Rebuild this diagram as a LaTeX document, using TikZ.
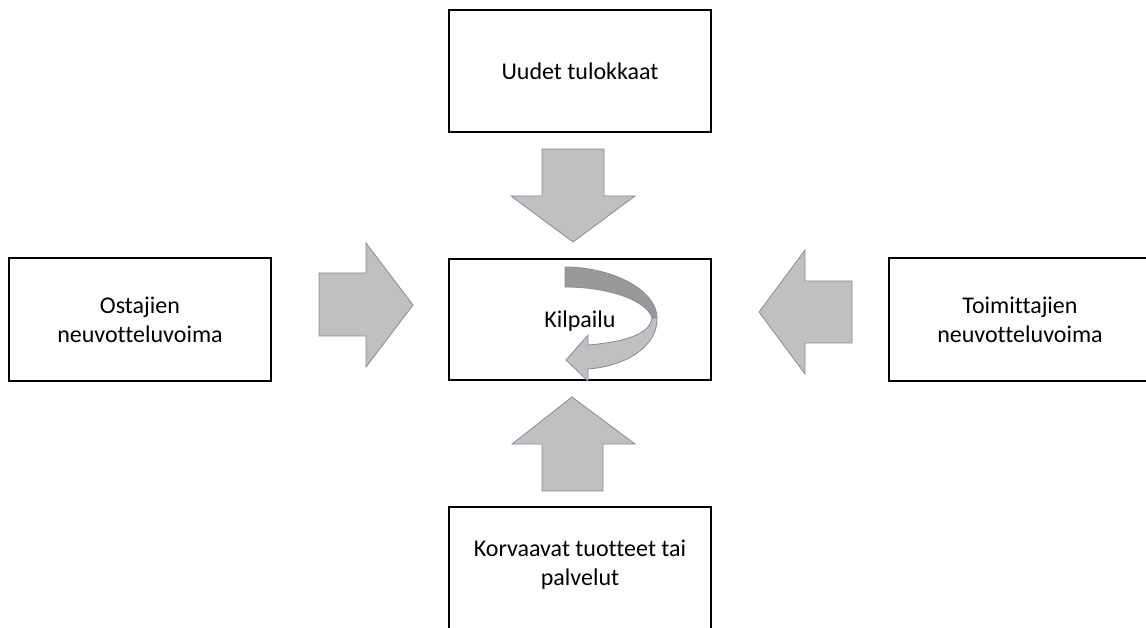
\documentclass[tikz,border=0pt]{standalone}
\usepackage{fontspec}
\setmainfont{Carlito}[Ligatures=NoCommon]
\begin{document}
\begin{tikzpicture}[x=1pt,y=-1pt,
  forcebox/.style={draw=black,line width=2pt,fill=white,minimum width=262pt,
    align=center,font=\fontsize{24}{29}\selectfont,inner sep=0pt},
  boxtext/.style={align=center,font=\fontsize{24}{29}\selectfont,inner sep=0pt},
  blockarrow/.style={fill={rgb,255:red,192;green,192;blue,192},
    draw={rgb,255:red,125;green,141;blue,163},line width=0.8pt,line join=miter},
  backband/.style={fill={rgb,255:red,153;green,153;blue,153},
    draw={rgb,255:red,125;green,141;blue,163},line width=0.8pt}]
\useasboundingbox (0,0) rectangle (1146,628);
\clip (0,0) rectangle (1146,628);

% five forces
\node[forcebox,minimum height=122pt] (entrants) at (580,71) {Uudet tulokkaat};
\node[forcebox,minimum height=121pt] (rivalry) at (580,319.5) {};
\node[forcebox,minimum height=122pt] (buyers) at (140,319.5) {Ostajien\\neuvotteluvoima};
\node[forcebox,minimum height=122pt] (suppliers) at (1020,319.5) {Toimittajien\\neuvotteluvoima};
\node[forcebox,minimum height=125pt] (substitutes) at (580,569.5) {};
\node[boxtext] (substitutestext) at ([yshift=5pt]substitutes.center) {Korvaavat tuotteet tai\\palvelut};

% circular arrow inside the rivalry box: back half darker, front half with head
\path[backband] (565,267) .. controls (612,267) and (657,290) .. (657,318)
  -- (652,318) .. controls (648,302) and (612,287) .. (565,287) -- cycle;
\path[blockarrow] (657,318) .. controls (658,345) and (628,366) .. (588,369)
  -- (588,381) -- (566,360) -- (588,335) -- (588,345)
  .. controls (625,342) and (650,334) .. (652,318) -- cycle;
\node[boxtext] (rivalrytext) at ([yshift=-2pt]rivalry.center) {Kilpailu};

% block arrows pointing into the rivalry box
\path[blockarrow] (542,149) -- (604,149) -- (604,196) -- (635,196) -- (573,242)
  -- (511,196) -- (542,196) -- cycle;
\path[blockarrow] (542,491) -- (603,491) -- (603,444) -- (635,444) -- (572,397)
  -- (512,444) -- (542,444) -- cycle;
\path[blockarrow] (319,273) -- (366,273) -- (366,243) -- (413,305) -- (366,367)
  -- (366,336) -- (319,336) -- cycle;
\path[blockarrow] (852,281) -- (805,281) -- (805,250) -- (759,312) -- (805,374)
  -- (805,343) -- (852,343) -- cycle;
\end{tikzpicture}
\end{document}
